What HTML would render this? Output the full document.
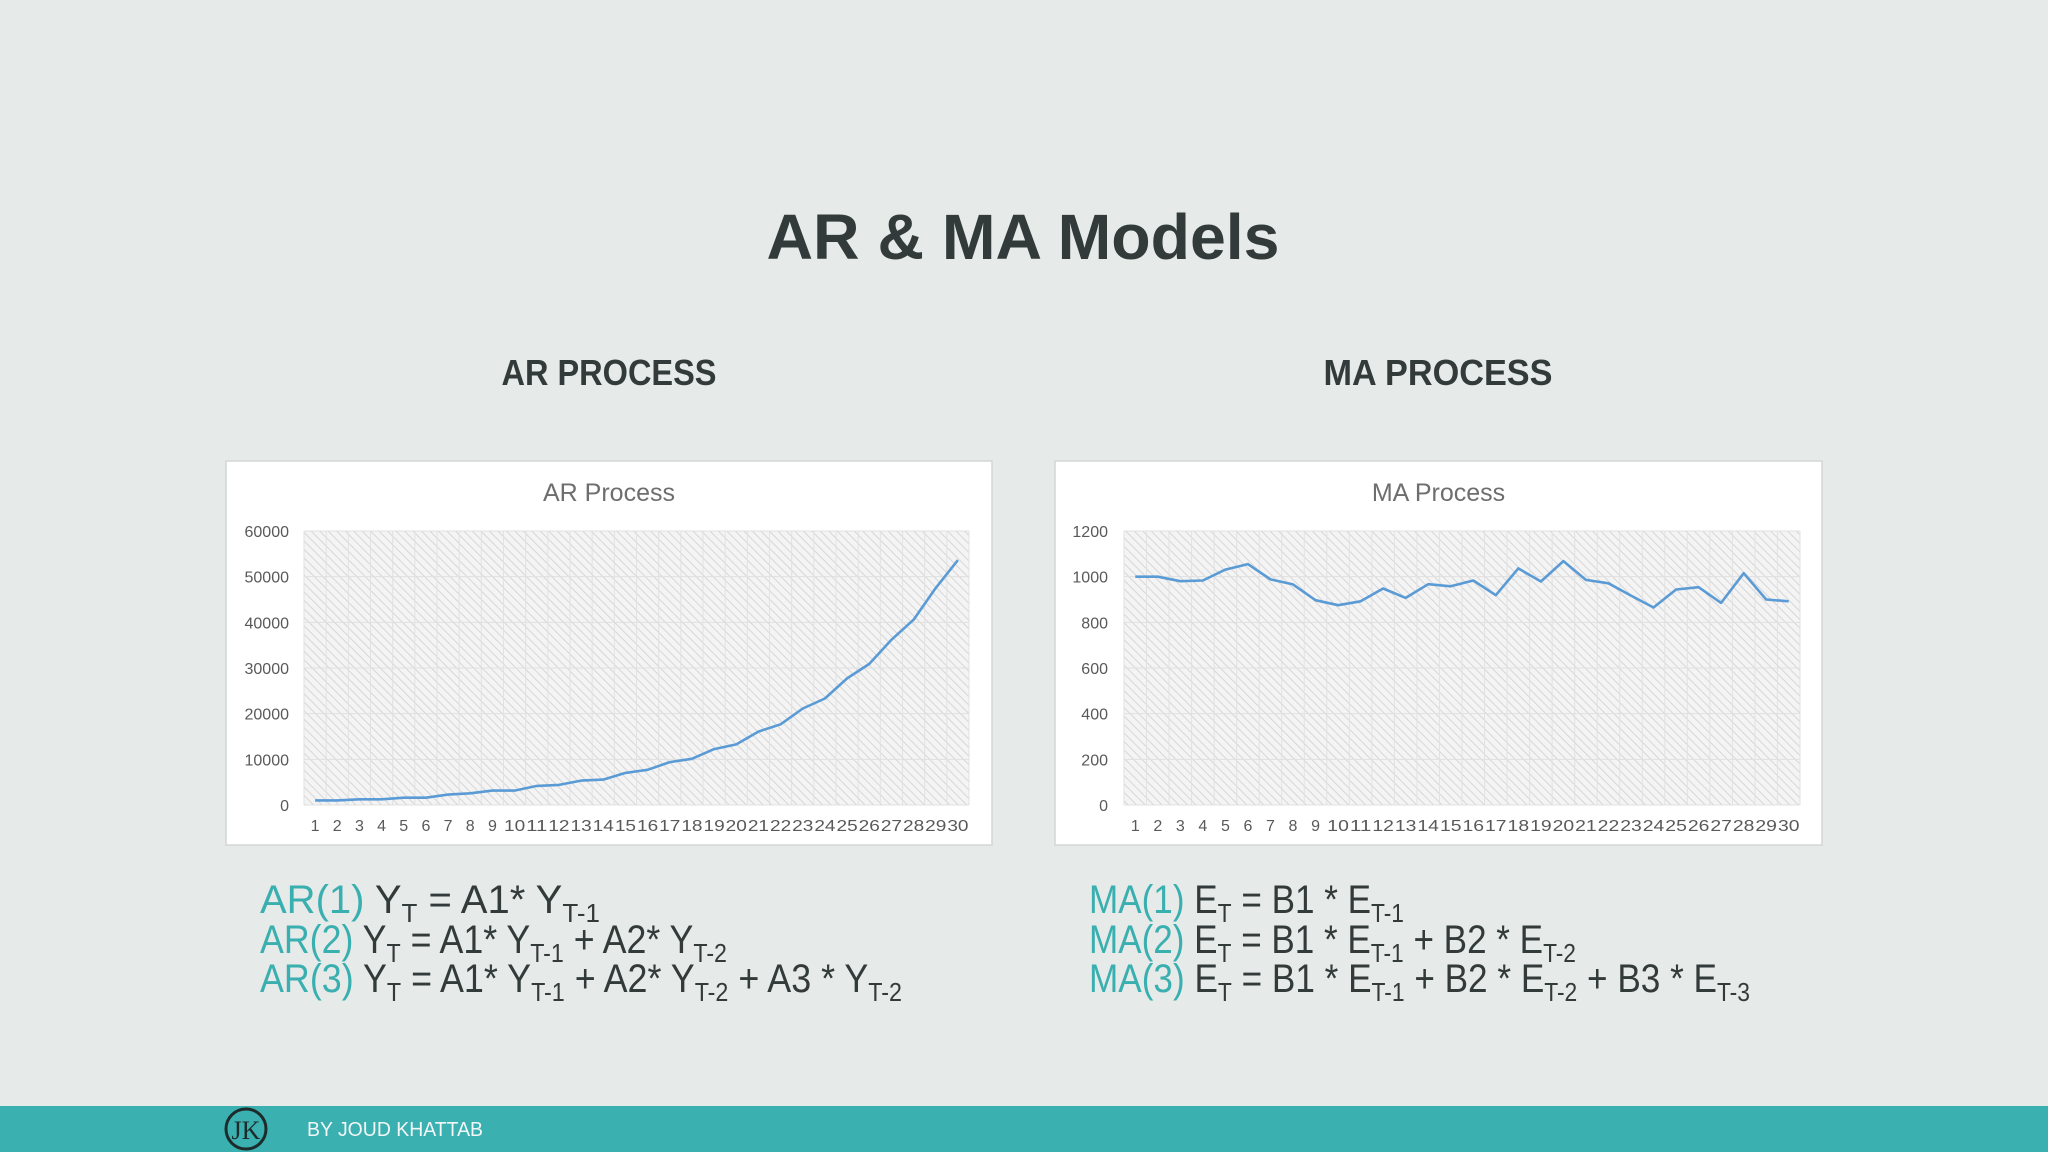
<!DOCTYPE html>
<html><head><meta charset="utf-8"><style>
html,body{margin:0;padding:0;background:#e6eae9;}
svg{display:block;font-family:"Liberation Sans",sans-serif;}
</style></head><body>
<svg id="s" width="2048" height="1152" viewBox="0 0 2048 1152">
<defs>
<pattern id="hatch" width="6" height="6" patternUnits="userSpaceOnUse" patternTransform="rotate(-45)">
<rect width="6" height="6" fill="#f4f4f4"/>
<line x1="0" y1="0" x2="0" y2="6" stroke="#d6d6d6" stroke-width="2"/>
</pattern>
</defs>
<rect width="2048" height="1152" fill="#e6eae9"/>
<text x="1023" y="259" font-size="64" font-weight="bold" fill="#333b3a" text-anchor="middle" textLength="513" lengthAdjust="spacingAndGlyphs">AR &amp; MA Models</text>
<text x="609" y="385" font-size="36" font-weight="bold" fill="#333b3a" text-anchor="middle" textLength="215" lengthAdjust="spacingAndGlyphs">AR PROCESS</text>
<text x="1438" y="385" font-size="36" font-weight="bold" fill="#333b3a" text-anchor="middle" textLength="229" lengthAdjust="spacingAndGlyphs">MA PROCESS</text>
<g id="charts"></g>
<g font-size="40" fill="#333b3a">
<text x="260" y="913"><tspan fill="#3aafb0">AR(1)</tspan> Y<tspan font-size="26" dy="9">T</tspan><tspan dy="-9"> = A1* Y</tspan><tspan font-size="26" dy="9">T-1</tspan></text>
<text x="260" y="953" textLength="467" lengthAdjust="spacingAndGlyphs"><tspan fill="#3aafb0">AR(2)</tspan> Y<tspan font-size="26" dy="9">T</tspan><tspan dy="-9"> = A1* Y</tspan><tspan font-size="26" dy="9">T-1</tspan><tspan dy="-9"> + A2* Y</tspan><tspan font-size="26" dy="9">T-2</tspan></text>
<text x="260" y="992" textLength="642" lengthAdjust="spacingAndGlyphs"><tspan fill="#3aafb0">AR(3)</tspan> Y<tspan font-size="26" dy="9">T</tspan><tspan dy="-9"> = A1* Y</tspan><tspan font-size="26" dy="9">T-1</tspan><tspan dy="-9"> + A2* Y</tspan><tspan font-size="26" dy="9">T-2</tspan><tspan dy="-9"> + A3 * Y</tspan><tspan font-size="26" dy="9">T-2</tspan></text>
</g>
<g font-size="40" fill="#333b3a">
<text x="1089" y="913" textLength="315" lengthAdjust="spacingAndGlyphs"><tspan fill="#3aafb0">MA(1)</tspan> E<tspan font-size="26" dy="9">T</tspan><tspan dy="-9"> = B1 * E</tspan><tspan font-size="26" dy="9">T-1</tspan></text>
<text x="1089" y="953" textLength="487" lengthAdjust="spacingAndGlyphs"><tspan fill="#3aafb0">MA(2)</tspan> E<tspan font-size="26" dy="9">T</tspan><tspan dy="-9"> = B1 * E</tspan><tspan font-size="26" dy="9">T-1</tspan><tspan dy="-9"> + B2 * E</tspan><tspan font-size="26" dy="9">T-2</tspan></text>
<text x="1089" y="992" textLength="661" lengthAdjust="spacingAndGlyphs"><tspan fill="#3aafb0">MA(3)</tspan> E<tspan font-size="26" dy="9">T</tspan><tspan dy="-9"> = B1 * E</tspan><tspan font-size="26" dy="9">T-1</tspan><tspan dy="-9"> + B2 * E</tspan><tspan font-size="26" dy="9">T-2</tspan><tspan dy="-9"> + B3 * E</tspan><tspan font-size="26" dy="9">T-3</tspan></text>
</g>
<rect x="0" y="1106" width="2048" height="46" fill="#3ab0b0"/>
<g>
<circle cx="246" cy="1129" r="20" fill="none" stroke="#1e2b2b" stroke-width="3"/>
<text x="246" y="1139" font-size="26" fill="#1e2b2b" text-anchor="middle" font-family="Liberation Serif,serif">JK</text>
</g>
<text x="307" y="1136" font-size="20" fill="#f2f6f6" textLength="176" lengthAdjust="spacingAndGlyphs">BY JOUD KHATTAB</text>
</svg>
<script>
const categories = Array.from({length:30},(_,i)=>String(i+1));
const arValues = [1000,1000,1250,1250,1600,1600,2270,2570,3150,3150,4180,4400,5350,5570,7040,7700,9390,10120,12250,13280,16070,17680,21130,23330,27730,30890,36170,40570,47540,53630];
const arTicks = [0,10000,20000,30000,40000,50000,60000];
const maValues = [1000,1000,980,983,1031,1055,988,966,897,875,892,948,907,967,958,983,919,1036,979,1068,986,971,917,865,944,954,885,1015,900,892];
const maTicks = [0,200,400,600,800,1000,1200];

const NS="http://www.w3.org/2000/svg";
function mk(tag, attrs, parent){const e=document.createElementNS(NS,tag);for(const k in attrs)e.setAttribute(k,attrs[k]);parent.appendChild(e);return e;}
const root=document.getElementById('charts');

function chart(cfg){
  const g=mk('g',{},root);
  
  
  const box=mk('rect',{x:cfg.bx,y:461,width:cfg.bw,height:384,fill:'#ffffff',stroke:'#d4d6d6','stroke-width':1.5},g);
  
  
  const t=mk('text',{x:cfg.bx+cfg.bw/2,y:501,'font-size':25,fill:'#6e6e6e','text-anchor':'middle'},g);
  t.textContent=cfg.title;
  
  
  const L=cfg.px, R=cfg.pr, T=531, B=805;
  const tmax=cfg.ticks[cfg.ticks.length-1];
  const ys=v=>B-(v/tmax)*(B-T);
  const n=categories.length, cw=(R-L)/n;
  const xs=i=>L+cw*(i+0.5);
  const pa=mk('rect',{x:L,y:T,width:R-L,height:B-T,fill:'url(#hatch)'},g);
  
  
  for(let i=0;i<=n;i++){const l=mk('line',{x1:L+cw*i,x2:L+cw*i,y1:T,y2:B,stroke:'#e2e2e2','stroke-width':1},g);
    
    }
  cfg.ticks.forEach(v=>{
    const l=mk('line',{x1:L,x2:R,y1:ys(v),y2:ys(v),stroke:'#e0e0e0','stroke-width':1},g);
    
    
    const tx=mk('text',{x:cfg.lx,y:ys(v)+6,'font-size':16,fill:'#595959','text-anchor':'end'},g);
    tx.textContent=v;
    
    
  });
  categories.forEach((c,i)=>{
    const tx=mk('text',{x:xs(i),y:831,'font-size':16,fill:'#595959','text-anchor':'middle'},g);
    if(c.length>1){tx.setAttribute('textLength',cw-1);tx.setAttribute('lengthAdjust','spacingAndGlyphs');}
    tx.textContent=c;
    
    
  });
  const pts=cfg.values.map((v,i)=>xs(i).toFixed(1)+','+ys(v).toFixed(1)).join(' ');
  const pl=mk('polyline',{points:pts,fill:'none',stroke:'#5b9bd5','stroke-width':2.6,'stroke-linejoin':'round'},g);
  
  
}
chart({name:'ar-process-chart',title:'AR Process',bx:226,bw:766,px:304,pr:969,lx:289,values:arValues,ticks:arTicks});
chart({name:'ma-process-chart',title:'MA Process',bx:1055,bw:767,px:1124,pr:1800,lx:1108,values:maValues,ticks:maTicks});
</script>
</body></html>
